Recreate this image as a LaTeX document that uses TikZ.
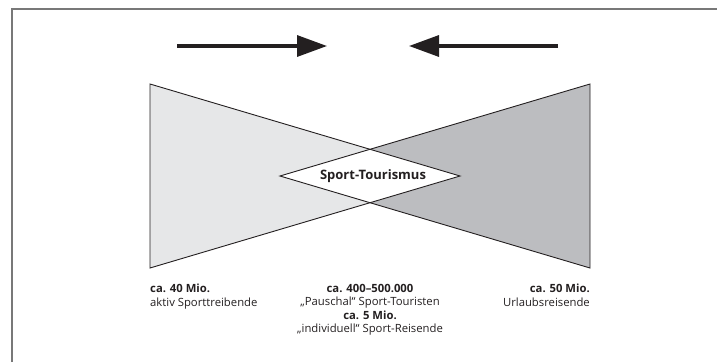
\documentclass[tikz,border=0pt]{standalone}
\usepackage{fontspec}
\setmainfont{Open Sans}
\usetikzlibrary{arrows.meta}
\definecolor{lgray}{RGB}{230,231,232}
\definecolor{dgray}{RGB}{188,189,192}
\definecolor{framegray}{RGB}{120,120,120}
\definecolor{ink}{RGB}{35,31,32}
\begin{document}
\begin{tikzpicture}[x=1pt,y=-1pt,
  lbl/.style={font=\fontsize{11.3}{13.3}\selectfont, inner sep=0pt, text=ink},
  bigarrow/.style={draw=ink, line width=3.3pt, -{Triangle[length=30pt,width=21pt]}},
  tri/.style={draw=ink, line width=0.9pt, line join=miter}]
\useasboundingbox (0,0) rectangle (717,362);
\draw[framegray, line width=2pt] (12,362) -- (12,9) -- (717,9);
\coordinate (LT) at (150,84);
\coordinate (LB) at (150,268);
\coordinate (LA) at (460,176);
\coordinate (RT) at (590,84);
\coordinate (RB) at (590,268);
\coordinate (RA) at (280,176);
\fill[lgray] (LT) -- (LB) -- (LA) -- cycle;
\fill[dgray] (RT) -- (RB) -- (RA) -- cycle;
\fill[white] (RA) -- (intersection of LT--LA and RT--RA) -- (LA) -- (intersection of LB--LA and RB--RA) -- cycle;
\draw[tri] (LT) -- (LB) -- (LA) -- cycle;
\draw[tri] (RT) -- (RB) -- (RA) -- cycle;
\node[lbl, font=\fontsize{13}{14}\selectfont\bfseries] (center) at (373,176) {Sport-Tourismus};
\coordinate (a1s) at (177,46);
\coordinate (a1e) at (327,46);
\coordinate (a2s) at (558,46);
\coordinate (a2e) at (409,46);
\draw[bigarrow] (a1s) -- (a1e);
\draw[bigarrow] (a2s) -- (a2e);
\node[lbl, anchor=north west, align=left] (left) at (150,284) {\textbf{ca. 40 Mio.}\\aktiv Sporttreibende};
\node[lbl, anchor=north, align=center] (mid) at (370,284) {\textbf{ca. 400–500.000}\\„Pauschal“ Sport-Touristen\\\textbf{ca. 5 Mio.}\\„individuell“ Sport-Reisende};
\node[lbl, anchor=north east, align=right] (right) at (590,284) {\textbf{ca. 50 Mio.}\\Urlaubsreisende};
\end{tikzpicture}
\end{document}
